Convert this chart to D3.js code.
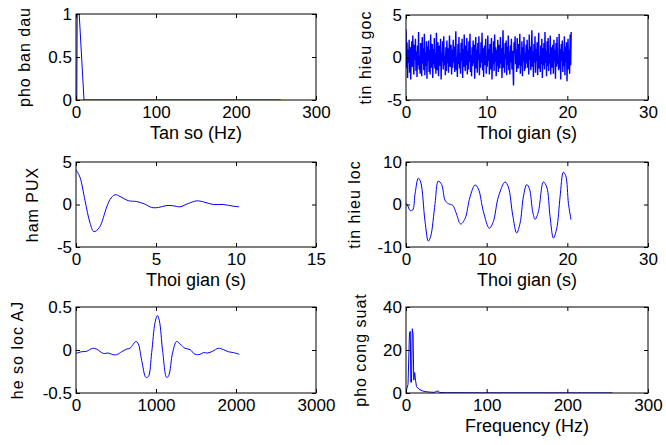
<!DOCTYPE html>
<html>
<head>
<meta charset="utf-8">
<script src="https://cdn.jsdelivr.net/npm/d3@7/dist/d3.min.js"></script>
<style>
  body { margin: 0; background: #fff; }
  svg { display: block; font-family: Arial, "Liberation Sans", Helvetica, sans-serif; }
  .tick text { font-size: 17px; fill: #000; }
  .tick line { stroke: #000; }
  .lbl { font-size: 18px; fill: #000; }
  .ylbl { font-size: 16px; fill: #000; letter-spacing: 1px; }
</style>
</head>
<body>
<div id="chart"></div>
<script>
// pho ban dau (original spectrum)
const specX = [0, 1, 1.5, 4, 10, 256];
const specY = [0, 0, 1, 1, 0, 0];

// tin hieu goc (raw signal), samples spread over noiseDuration seconds
const noiseDuration = 20.48;
const noiseY = [
  3.3, -1.2, 1.8, -2.4, 0.9, -0.6, 2.1, -1.8, 1.2, -2.6, 0.4, 1.9, -1.1, 2.6, -0.8, -2.0, 1.5, -0.3, 2.2, -1.6,
  0.7, -2.3, 1.4, -0.9, 3.0, -1.4, 0.2, -1.9, 1.7, 0.5, -2.2, 2.4, -0.7, 1.1, -1.5, 2.8, -2.1, 0.6, -1.0, 1.9,
  -2.5, 1.3, -0.4, 2.0, -1.7, 0.9, -2.0, 2.7, -1.2, 0.3, 1.6, -2.4, 1.0, -0.8, 2.3, -1.3, 0.5, -1.9, 2.9, -0.6,
  -1.5, 1.8, -2.2, 0.8, 1.4, -1.0, 2.2, -2.6, 0.6, -0.5, 1.9, -1.4, 2.5, -0.9, 0.2, -2.1, 1.2, -1.6, 2.0, -0.7,
  1.1, -1.8, 0.4, 2.6, -1.1, -0.3, 1.5, -2.0, 0.9, -1.2, 2.1, -0.6, 1.3, -1.7, 0.7, 3.1, -1.5, 0.1, -2.3, 1.6,
  -0.8, 2.4, -1.3, 0.5, -1.9, 1.7, -0.4, 2.2, -2.4, 1.0, -1.1, 2.7, -0.2, -1.6, 1.4, -0.9, 2.3, -2.0, 0.8, -1.4,
  1.9, -0.5, 2.8, -1.7, 0.3, -2.2, 1.2, -1.0, 2.0, -0.7, 1.5, -2.5, 0.6, 2.4, -1.3, 0.9, -1.8, 1.7, -0.3, 2.5,
  -2.1, 0.4, -1.2, 1.8, -0.6, 2.9, -1.5, 1.1, -2.3, 0.7, 1.4, -0.9, 2.2, -1.9, 0.2, -1.1, 2.6, -0.4, 1.0, -2.0,
  1.6, -1.4, 0.8, 2.3, -2.6, 0.5, -0.8, 1.9, -1.6, 2.7, -0.5, 1.2, -2.2, 0.9, -1.0, 2.1, -1.7, 0.3, 1.5, -1.3,
  2.4, -0.7, 1.1, -2.4, 0.6, 3.2, -1.2, 0.4, -1.8, 1.7, -0.2, 2.0, -2.1, 1.3, -0.9, 2.6, -1.5, 0.7, -2.0, 1.4,
  -0.6, 2.2, -1.4, 0.8, -1.1, -3.3, 1.8, 0.5, 2.5, -0.8, 1.0, -1.7, 2.3, -0.4, -1.3, 1.6, -0.9, 2.8, -1.9, 0.3,
  -1.0, 1.9, -2.2, 1.2, -0.5, 2.4, -1.6, 0.6, -1.3, 1.5, -0.7, 2.1, -1.2, 0.9, -2.0, 2.7, -0.3, 1.3, -1.5, 0.4,
  3.2, -1.1, 0.7, -2.3, 1.6, -0.6, 2.5, -1.8, 1.0, -0.4, 1.8, -2.1, 0.5, 2.9, -1.3, 0.2, -1.7, 1.4, -0.8, 2.2,
  -2.4, 1.1, -0.9, 1.7, -1.4, 3.0, -0.6, 0.8, -2.2, 1.9, -1.0, 2.3, -1.6, 0.4, -0.7, 2.6, -2.0, 1.2, -1.2, 0.6,
  1.5, -1.9, 2.1, -0.5, 0.9, -2.5, 1.7, -1.1, 2.4, -0.8, 0.3, -1.5, 2.8, -1.3, 1.0, -2.6, 1.6, -0.4, 2.0, -1.7,
  0.7, -1.0, 2.5, -2.1, 1.3, -0.6, 1.8, -2.8, 0.5, 2.2, -1.4, 0.9, -1.9, 2.7, -0.9, 3.0
];

// ham PUX (impulse response)
const puxX = [0, 0.25, 0.56, 0.88, 1.12, 1.46, 1.92, 2.13, 2.44, 2.75, 3.27, 3.79, 4.3, 4.73, 5.15, 5.67, 6.08, 6.5, 7.02, 7.54, 7.96, 8.58, 9.2, 9.83, 10.2];
const puxY = [4.1, 3.2, 0.5, -2.2, -3.2, -2.7, -0.3, 0.6, 1.15, 0.95, 0.45, 0.35, 0.05, -0.35, -0.35, -0.12, -0.15, -0.27, 0.12, 0.43, 0.31, 0.0, 0.0, -0.2, -0.27];

// tin hieu loc (filtered signal)
const locX = [0.05, 0.29, 0.5, 0.83, 1.12, 1.53, 1.82, 2.36, 2.77, 3.06, 3.6, 4.0, 4.42, 4.84, 5.25, 5.79, 6.2, 6.78, 7.32, 7.94, 8.56, 8.97, 9.6, 10.33, 10.83, 11.45, 12.28, 12.69, 13.23, 13.72, 14.14, 14.55, 14.96, 15.3, 15.71, 16.0, 16.41, 17.03, 17.45, 17.86, 18.28, 18.69, 19.1, 19.51, 19.8, 20.14, 20.46];
const locY = [0.3, -0.6, -1.4, -1.3, 2.5, 6.2, 5.3, -4.0, -8.6, -7.5, 0.2, 5.5, 4.7, 1.0, 0.2, -0.2, -1.9, -4.6, -3.3, 1.8, 4.6, 3.7, -1.7, -5.6, -4.0, 1.8, 5.3, 4.1, -2.5, -6.7, -4.4, 1.8, 4.7, 3.7, -1.7, -3.5, -1.7, 5.3, 4.1, -2.9, -7.9, -5.6, 1.8, 7.6, 6.8, 0.2, -3.6];

// he so loc AJ (filter coefficients)
const ajX = [0, 71, 133, 208, 258, 342, 404, 446, 508, 571, 633, 675, 750, 779, 821, 875, 904, 946, 988, 1017, 1042, 1083, 1133, 1158, 1208, 1258, 1300, 1363, 1425, 1488, 1550, 1592, 1642, 1708, 1779, 1842, 1904, 1967, 2042];
const ajY = [-0.04, -0.02, -0.015, 0.02, 0.01, -0.04, -0.035, -0.05, -0.055, -0.02, 0.01, 0.02, 0.1, 0.07, -0.12, -0.32, -0.31, -0.03, 0.32, 0.4, 0.34, -0.01, -0.32, -0.3, -0.03, 0.1, 0.07, 0.02, 0.005, -0.05, -0.05, -0.03, -0.035, -0.015, 0.02, 0.005, -0.02, -0.03, -0.05];

// pho cong suat (power spectrum)
const psdX = [0, 1, 2.5, 4.3, 5.3, 6, 6.8, 7.8, 8.8, 9.6, 10.8, 11.8, 13, 16, 20, 25, 30, 35, 38, 40, 42, 50, 100, 256];
const psdY = [0, 2, 4, 28, 28.7, 5, 5, 29.9, 27, 6, 9.5, 6, 3, 1.8, 1, 0.6, 0.4, 0.3, 0.8, 0.9, 0.2, 0.1, 0.05, 0.02];

const width = 666;
const height = 445;

const panels = [
  { box: [76, 14, 240, 86], xDom: [0, 300], yDom: [0, 1], xTicks: [0, 100, 200, 300], yTicks: [0, 0.5, 1],
    xs: specX, ys: specY, xlabel: "Tan so (Hz)", ylabel: "pho ban dau", ylx: 24.5, smooth: false, sw: 1 },
  { box: [406, 15, 242, 85], xDom: [0, 30], yDom: [-5, 5], xTicks: [0, 10, 20, 30], yTicks: [-5, 0, 5],
    xs: noiseY.map((d, i) => i * noiseDuration / (noiseY.length - 1)), ys: noiseY,
    xlabel: "Thoi gian (s)", ylabel: "tin hieu goc", ylx: 365.5, smooth: false, sw: 1.4 },
  { box: [76, 162, 240, 85], xDom: [0, 15], yDom: [-5, 5], xTicks: [0, 5, 10, 15], yTicks: [-5, 0, 5],
    xs: puxX, ys: puxY, xlabel: "Thoi gian (s)", ylabel: "ham PUX", ylx: 32, smooth: true, sw: 1 },
  { box: [406, 162, 242, 85], xDom: [0, 30], yDom: [-10, 10], xTicks: [0, 10, 20, 30], yTicks: [-10, 0, 10],
    xs: locX, ys: locY, xlabel: "Thoi gian (s)", ylabel: "tin hieu loc", ylx: 354, smooth: true, sw: 1 },
  { box: [76, 307, 240, 86], xDom: [0, 3000], yDom: [-0.5, 0.5], xTicks: [0, 1000, 2000, 3000], yTicks: [-0.5, 0, 0.5],
    xs: ajX, ys: ajY, xlabel: null, ylabel: "he so loc AJ", ylx: 17.5, smooth: true, sw: 1 },
  { box: [406, 307, 242, 86], xDom: [0, 300], yDom: [0, 40], xTicks: [0, 100, 200, 300], yTicks: [0, 20, 40],
    xs: psdX, ys: psdY, xlabel: "Frequency (Hz)", ylabel: "pho cong suat", ylx: 360, smooth: false, sw: 1 }
];

const svg = d3
  .select("#chart")
  .append("svg")
  .attr("width", width)
  .attr("height", height);

panels.forEach(p => {
  const [left, top, w, h] = p.box;
  const x = d3.scaleLinear().domain(p.xDom).range([0, w]);
  const y = d3.scaleLinear().domain(p.yDom).range([h, 0]);

  const g = svg.append("g").attr("transform", `translate(${left},${top})`);

  const clipId = "clip" + left + "_" + top;
  g.append("clipPath").attr("id", clipId)
    .append("rect").attr("width", w).attr("height", h);

  const pts = p.xs.map((d, i) => [d, p.ys[i]]);
  const line = d3.line()
    .x(d => x(d[0]))
    .y(d => y(d[1]))
    .curve(p.smooth ? d3.curveCatmullRom.alpha(0.5) : d3.curveLinear);

  g.append("path")
    .datum(pts)
    .attr("clip-path", `url(#${clipId})`)
    .attr("fill", "none")
    .attr("stroke", "#0000ff")
    .attr("stroke-width", p.sw)
    .attr("d", line);

  // inside ticks on all four sides, MATLAB style
  const fmt = d => String(d);
  g.append("g").attr("transform", `translate(0,${h})`)
    .call(d3.axisBottom(x).tickValues(p.xTicks).tickFormat(fmt).tickSizeInner(-4).tickSizeOuter(0).tickPadding(6));
  g.append("g")
    .call(d3.axisTop(x).tickValues(p.xTicks).tickFormat("").tickSizeInner(-4).tickSizeOuter(0));
  g.append("g")
    .call(d3.axisLeft(y).tickValues(p.yTicks).tickFormat(fmt).tickSizeInner(-4).tickSizeOuter(0).tickPadding(4));
  g.append("g").attr("transform", `translate(${w},0)`)
    .call(d3.axisRight(y).tickValues(p.yTicks).tickFormat("").tickSizeInner(-4).tickSizeOuter(0));

  g.selectAll(".domain").remove();
  g.selectAll(".tick text").attr("font-family", null).attr("font-size", null);

  g.append("rect")
    .attr("width", w)
    .attr("height", h)
    .attr("fill", "none")
    .attr("stroke", "#000")
    .attr("stroke-width", 1);

  if (p.xlabel) {
    svg.append("text")
      .attr("class", "lbl")
      .attr("x", left + w / 2)
      .attr("y", top + h + 39)
      .attr("text-anchor", "middle")
      .text(p.xlabel);
  }

  svg.append("text")
    .attr("class", "ylbl")
    .attr("transform", `translate(${p.ylx},${top + h / 2}) rotate(-90)`)
    .attr("dy", "0.35em")
    .attr("text-anchor", "middle")
    .text(p.ylabel);
});
</script>
</body>
</html>
